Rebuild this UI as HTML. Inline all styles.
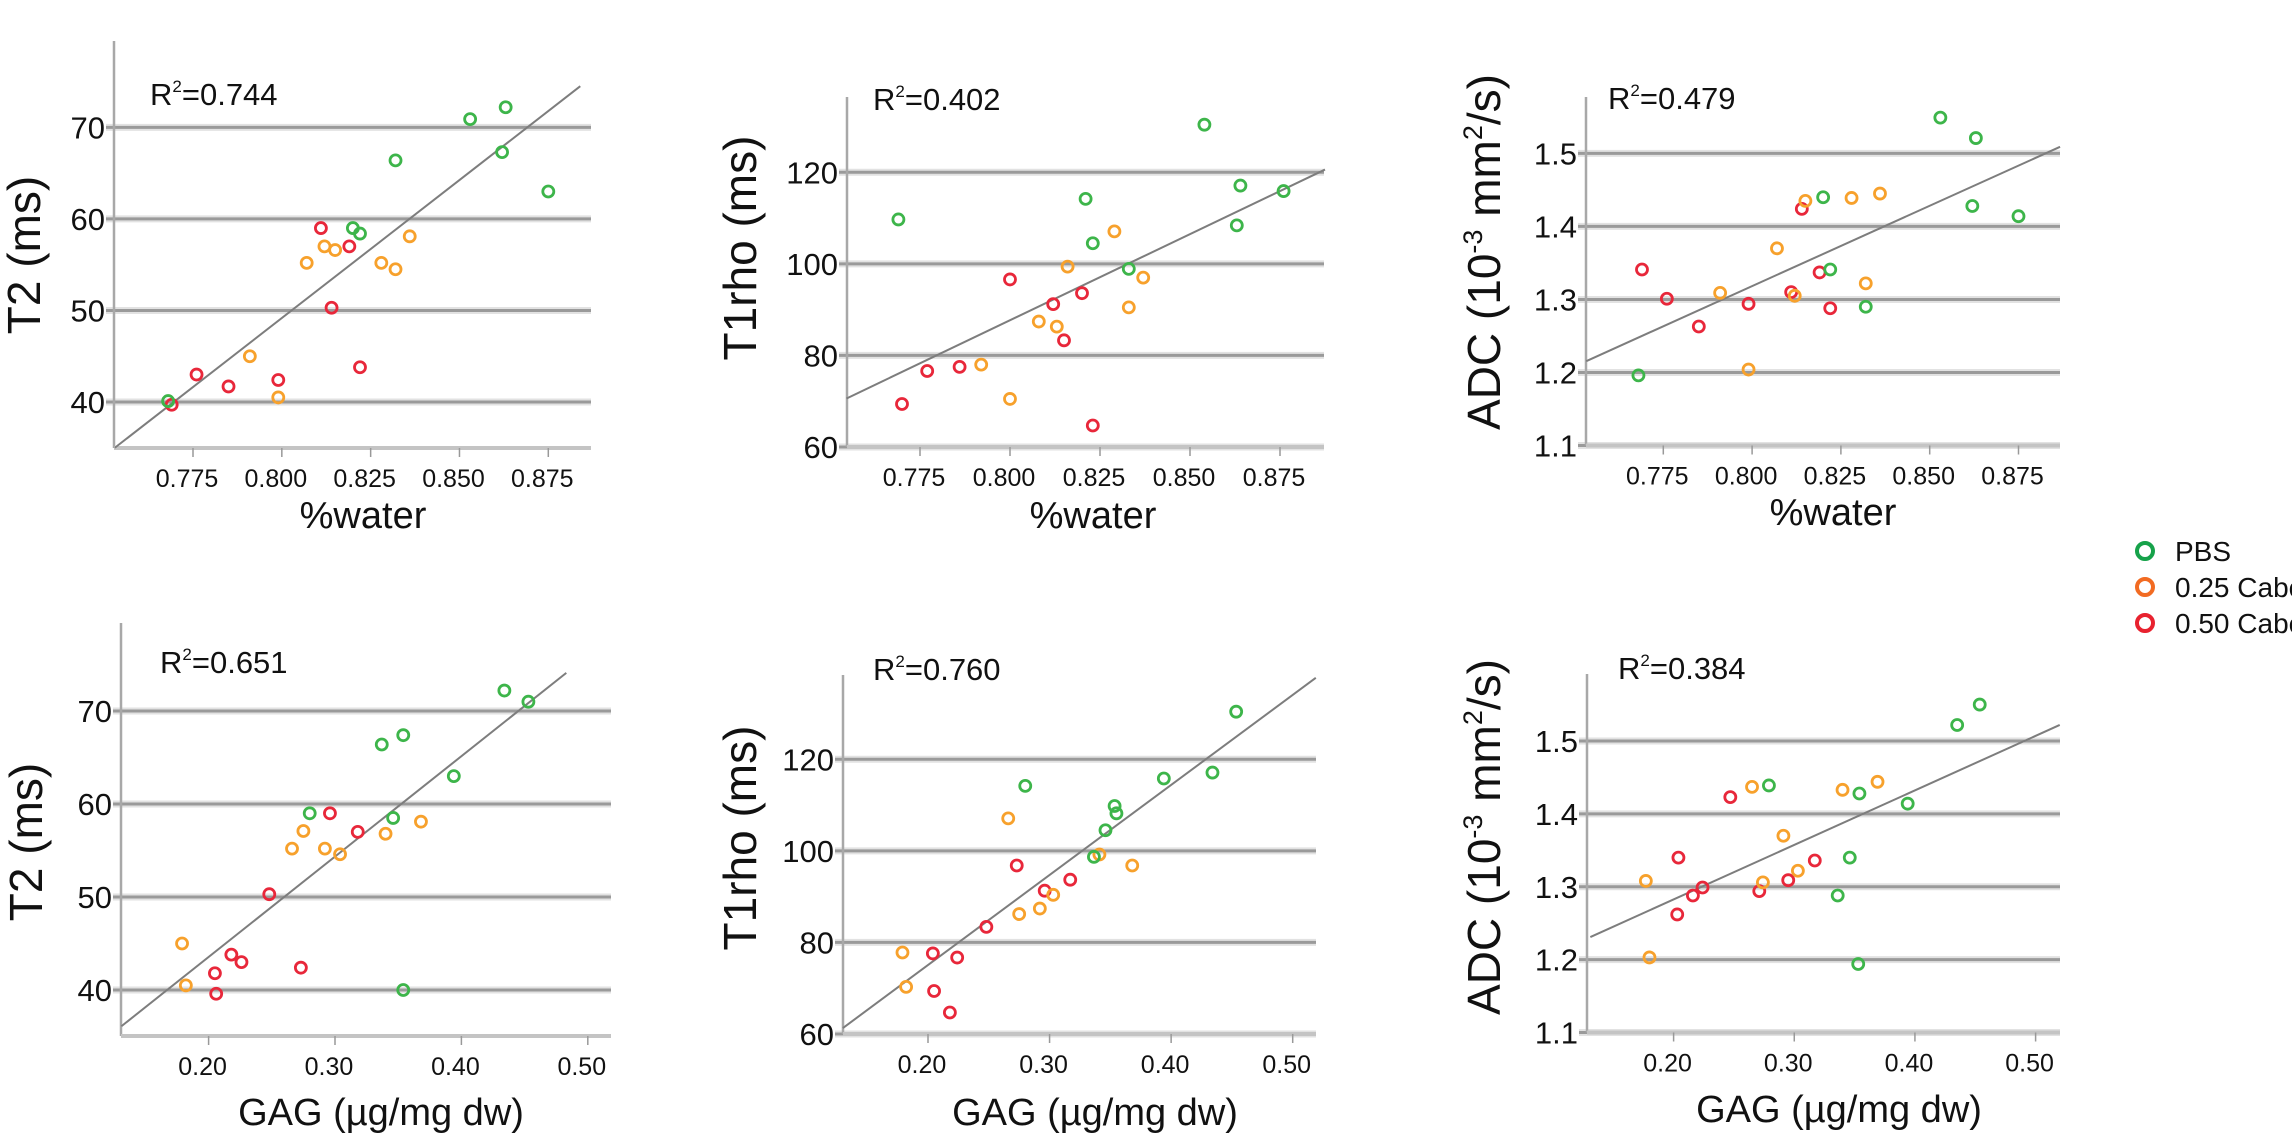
<!DOCTYPE html>
<html><head><meta charset="utf-8"><style>
html,body{margin:0;padding:0;background:#fff;}
svg{display:block;}
.tk{font-family:"Liberation Sans Narrow","Liberation Sans",sans-serif;fill:#111;}
.tt{font-family:"Liberation Sans",sans-serif;fill:#111;}
</style></head><body>
<svg id="fig" width="2292" height="1147" viewBox="0 0 2292 1147" xmlns="http://www.w3.org/2000/svg">
<g>
<circle cx="2145" cy="551" r="8" fill="none" stroke="#16a24a" stroke-width="4"/>
<text class="tk" x="2175" y="561" font-size="28">PBS</text>
<circle cx="2145" cy="587" r="8" fill="none" stroke="#f26b22" stroke-width="4"/>
<text class="tk" x="2175" y="597" font-size="28">0.25 Cabc</text>
<circle cx="2145" cy="623" r="8" fill="none" stroke="#e8222f" stroke-width="4"/>
<text class="tk" x="2175" y="633" font-size="28">0.50 Cabc</text>
</g>
</svg>
<script>
const waterT2_G=[0.853,0.863,0.862,0.832,0.875,0.820,0.822,0.768];
const t2W_G=[70.9,72.2,67.3,66.4,63.0,59.0,58.4,40.1];
const waterT2_O=[0.812,0.815,0.807,0.828,0.832,0.836,0.791,0.799];
const t2W_O=[57.0,56.6,55.2,55.2,54.5,58.1,45.0,40.5];
const waterT2_R=[0.811,0.819,0.814,0.776,0.785,0.799,0.822,0.769];
const t2W_R=[59.0,57.0,50.3,43.0,41.7,42.4,43.8,39.7];

const waterT1_G=[0.854,0.864,0.876,0.863,0.821,0.823,0.833,0.769];
const t1W_G=[130.4,117.1,115.9,108.4,114.2,104.5,98.9,109.7];
const waterT1_O=[0.829,0.816,0.837,0.833,0.808,0.813,0.792,0.800];
const t1W_O=[107.1,99.4,97.0,90.5,87.4,86.3,78.0,70.5];
const waterT1_R=[0.800,0.820,0.812,0.815,0.777,0.786,0.770,0.823];
const t1W_R=[96.6,93.6,91.2,83.3,76.6,77.5,69.4,64.7];

const waterADC_G=[0.853,0.863,0.862,0.875,0.820,0.822,0.832,0.768];
const adcW_G=[1.549,1.521,1.428,1.414,1.440,1.341,1.290,1.196];
const waterADC_O=[0.815,0.828,0.836,0.807,0.832,0.791,0.812,0.799];
const adcW_O=[1.435,1.439,1.445,1.370,1.322,1.309,1.305,1.204];
const waterADC_R=[0.814,0.819,0.811,0.769,0.776,0.799,0.785,0.822];
const adcW_R=[1.424,1.337,1.310,1.341,1.301,1.294,1.263,1.288];

const gagT2_G=[0.434,0.453,0.354,0.337,0.394,0.280,0.346,0.354];
const t2G_G=[72.2,71.0,67.4,66.4,63.0,59.0,58.5,40.0];
const gagT2_O=[0.275,0.266,0.292,0.304,0.340,0.368,0.179,0.182];
const t2G_O=[57.1,55.2,55.2,54.6,56.8,58.1,45.0,40.5];
const gagT2_R=[0.296,0.318,0.248,0.218,0.226,0.205,0.273,0.206];
const t2G_R=[59.0,57.0,50.3,43.8,43.0,41.8,42.4,39.6];

const gagT1_G=[0.4535,0.434,0.394,0.280,0.3535,0.355,0.346,0.3365];
const t1G_G=[130.4,117.1,115.8,114.2,109.8,108.2,104.5,98.7];
const gagT1_O=[0.266,0.341,0.368,0.303,0.292,0.275,0.179,0.182];
const t1G_O=[107.1,99.2,96.8,90.4,87.4,86.2,77.8,70.3];
const gagT1_R=[0.273,0.317,0.296,0.248,0.204,0.224,0.205,0.218];
const t1G_R=[96.8,93.7,91.3,83.4,77.6,76.7,69.4,64.7];

const gagADC_G=[0.4537,0.435,0.354,0.394,0.279,0.346,0.336,0.353];
const adcG_G=[1.550,1.522,1.428,1.414,1.439,1.340,1.288,1.194];
const gagADC_O=[0.265,0.340,0.369,0.291,0.303,0.274,0.177,0.180];
const adcG_O=[1.437,1.433,1.444,1.370,1.322,1.306,1.308,1.203];
const gagADC_R=[0.247,0.317,0.295,0.204,0.224,0.216,0.271,0.203];
const adcG_R=[1.423,1.336,1.309,1.340,1.299,1.288,1.294,1.262];

const fitT2W_x=[0.753,0.884], fitT2W_y=[35.0,74.5];
const fitT1W_x=[0.7546,0.8875], fitT1W_y=[70.6,120.6];
const fitADCW_x=[0.7533,0.8867], fitADCW_y=[1.2155,1.509];
const fitT2G_x=[0.131,0.483], fitT2G_y=[36.1,74.1];
const fitT1G_x=[0.130,0.519], fitT1G_y=[61.3,137.8];
const fitADCG_x=[0.131,0.520], fitADCG_y=[1.231,1.522];

const r2Labels=["0.744","0.402","0.479","0.651","0.760","0.384"];
const waterTicks=[0.775,0.800,0.825,0.850,0.875];
const waterTickLabels=["0.775","0.800","0.825","0.850","0.875"];
const gagTicks=[0.20,0.30,0.40,0.50];
const gagTickLabels=["0.20","0.30","0.40","0.50"];
const t2Ticks=[40,50,60,70];
const t1Ticks=[60,80,100,120];
const adcTicks=[1.1,1.2,1.3,1.4,1.5];
const adcTickLabels=["1.1","1.2","1.3","1.4","1.5"];

const NS="http://www.w3.org/2000/svg";
const svg=document.getElementById('fig');
function mk(tag,attrs,parent){const e=document.createElementNS(NS,tag);for(const k in attrs)e.setAttribute(k,attrs[k]);(parent||svg).appendChild(e);return e;}

const COL={G:"#3db54a",O:"#f7a12c",R:"#e8273a"};

const panels=[
 {id:"t2-water",L:114,T:41,Rt:591,B:448,xa:[0.775,193,0.875,548.3],ya:[70,127.4,40,402],xt:waterTicks,xl:waterTickLabels,yt:t2Ticks,yl:t2Ticks.map(String),
  G:[waterT2_G,t2W_G],O:[waterT2_O,t2W_O],R:[waterT2_R,t2W_R],fit:[fitT2W_x,fitT2W_y],r2:0,r2x:150,r2y:105,xtitle:"%water",xtx:363,xty:528,ylab:"t2",ylx:24,yly:255},
 {id:"t1rho-water",L:847,T:97,Rt:1324,B:447,xa:[0.775,920,0.875,1280],ya:[120,172.3,60,447],xt:waterTicks,xl:waterTickLabels,yt:t1Ticks,yl:t1Ticks.map(String),
  G:[waterT1_G,t1W_G],O:[waterT1_O,t1W_O],R:[waterT1_R,t1W_R],fit:[fitT1W_x,fitT1W_y],r2:1,r2x:873,r2y:110,xtitle:"%water",xtx:1093,xty:528,ylab:"t1",ylx:740,yly:248},
 {id:"adc-water",L:1586,T:97,Rt:2060,B:445.5,xa:[0.775,1663.3,0.875,2018.5],ya:[1.5,153.4,1.1,445.5],xt:waterTicks,xl:waterTickLabels,yt:adcTicks,yl:adcTickLabels,
  G:[waterADC_G,adcW_G],O:[waterADC_O,adcW_O],R:[waterADC_R,adcW_R],fit:[fitADCW_x,fitADCW_y],r2:2,r2x:1608,r2y:109,xtitle:"%water",xtx:1833,xty:525,ylab:"adc",ylx:1484,yly:252},
 {id:"t2-gag",L:121,T:623,Rt:611,B:1036,xa:[0.20,208.6,0.50,587.8],ya:[70,711,40,990],xt:gagTicks,xl:gagTickLabels,yt:t2Ticks,yl:t2Ticks.map(String),
  G:[gagT2_G,t2G_G],O:[gagT2_O,t2G_O],R:[gagT2_R,t2G_R],fit:[fitT2G_x,fitT2G_y],r2:3,r2x:160,r2y:673,xtitle:"GAG (\u00b5g/mg dw)",xtx:381,xty:1125,ylab:"t2",ylx:26,yly:842},
 {id:"t1rho-gag",L:843,T:675,Rt:1316,B:1034,xa:[0.20,928,0.50,1292.7],ya:[120,759.3,60,1034],xt:gagTicks,xl:gagTickLabels,yt:t1Ticks,yl:t1Ticks.map(String),
  G:[gagT1_G,t1G_G],O:[gagT1_O,t1G_O],R:[gagT1_R,t1G_R],fit:[fitT1G_x,fitT1G_y],r2:4,r2x:873,r2y:680,xtitle:"GAG (\u00b5g/mg dw)",xtx:1095,xty:1125,ylab:"t1",ylx:740,yly:838},
 {id:"adc-gag",L:1587,T:674,Rt:2060,B:1032.5,xa:[0.20,1673.6,0.50,2035.6],ya:[1.5,741,1.1,1032.5],xt:gagTicks,xl:gagTickLabels,yt:adcTicks,yl:adcTickLabels,
  G:[gagADC_G,adcG_G],O:[gagADC_O,adcG_O],R:[gagADC_R,adcG_R],fit:[fitADCG_x,fitADCG_y],r2:5,r2x:1618,r2y:679,xtitle:"GAG (\u00b5g/mg dw)",xtx:1839,xty:1122,ylab:"adc",ylx:1484,yly:837}
];

panels.forEach(p=>{
  const sx=v=>p.xa[1]+(v-p.xa[0])/(p.xa[2]-p.xa[0])*(p.xa[3]-p.xa[1]);
  const sy=v=>p.ya[1]+(v-p.ya[0])/(p.ya[2]-p.ya[0])*(p.ya[3]-p.ya[1]);
  const g=mk('g',{});
  
  
  p.yt.forEach((v,i)=>{
    const y=sy(v);
    const h=mk('line',{x1:p.L-8,x2:p.Rt,y1:y,y2:y,stroke:"#e2e2e2","stroke-width":7},g);
    
    
    const l=mk('line',{x1:p.L-8,x2:p.Rt,y1:y,y2:y,stroke:"#9a9a9a","stroke-width":3},g);
    
    
    const t=mk('text',{x:p.L-9,y:y+11,"text-anchor":"end","font-size":31,class:"tk"},g);
    t.textContent=p.yl[i];
    
    
  });
  const ya=mk('line',{x1:p.L,x2:p.L,y1:p.T,y2:p.B,stroke:"#a8a8a8","stroke-width":2.5},g);
  
  
  const xa=mk('line',{x1:p.L,x2:p.Rt,y1:p.B,y2:p.B,stroke:"#c4c4c4","stroke-width":4},g);
  
  
  p.xt.forEach((v,i)=>{
    const x=sx(v);
    const tm=mk('line',{x1:x,x2:x,y1:p.B,y2:p.B+9,stroke:"#999","stroke-width":1.5},g);
    
    
    const t=mk('text',{x:x-6,y:p.B+39,"text-anchor":"middle","font-size":25,class:"tk"},g);
    t.textContent=p.xl[i];
    
    
  });
  const f=mk('line',{x1:sx(p.fit[0][0]),y1:sy(p.fit[1][0]),x2:sx(p.fit[0][1]),y2:sy(p.fit[1][1]),stroke:"#7d7d7d","stroke-width":2},g);
  
  
  ["R","O","G"].forEach(k=>{
    const xs=p[k][0], ys=p[k][1];
    xs.forEach((xv,i)=>{
      const c=mk('circle',{cx:sx(xv),cy:sy(ys[i]),r:5.5,fill:"none",stroke:COL[k],"stroke-width":2.8},g);
      
      
    });
  });
  const r=mk('text',{x:p.r2x,y:p.r2y,"font-size":31,class:"tk"},g);
  r.innerHTML='R<tspan font-size="17" dy="-13">2</tspan><tspan dy="13">='+r2Labels[p.r2]+'</tspan>';
  
  
  const xt=mk('text',{x:p.xtx,y:p.xty,"text-anchor":"middle","font-size":38,class:"tt"},g);
  xt.textContent=p.xtitle;
  
  
  const yt=mk('text',{x:0,y:0,"text-anchor":"middle","font-size":46,class:"tt",transform:`translate(${p.ylx+16},${p.yly}) rotate(-90)`},g);
  if(p.ylab==="t2") yt.textContent="T2 (ms)";
  else if(p.ylab==="t1") yt.textContent="T1rho (ms)";
  else yt.innerHTML='ADC (10<tspan font-size="27" dy="-18">-3</tspan><tspan dy="18"> mm</tspan><tspan font-size="27" dy="-18">2</tspan><tspan dy="18">/s)</tspan>';
  
  
});
</script>
</body></html>
